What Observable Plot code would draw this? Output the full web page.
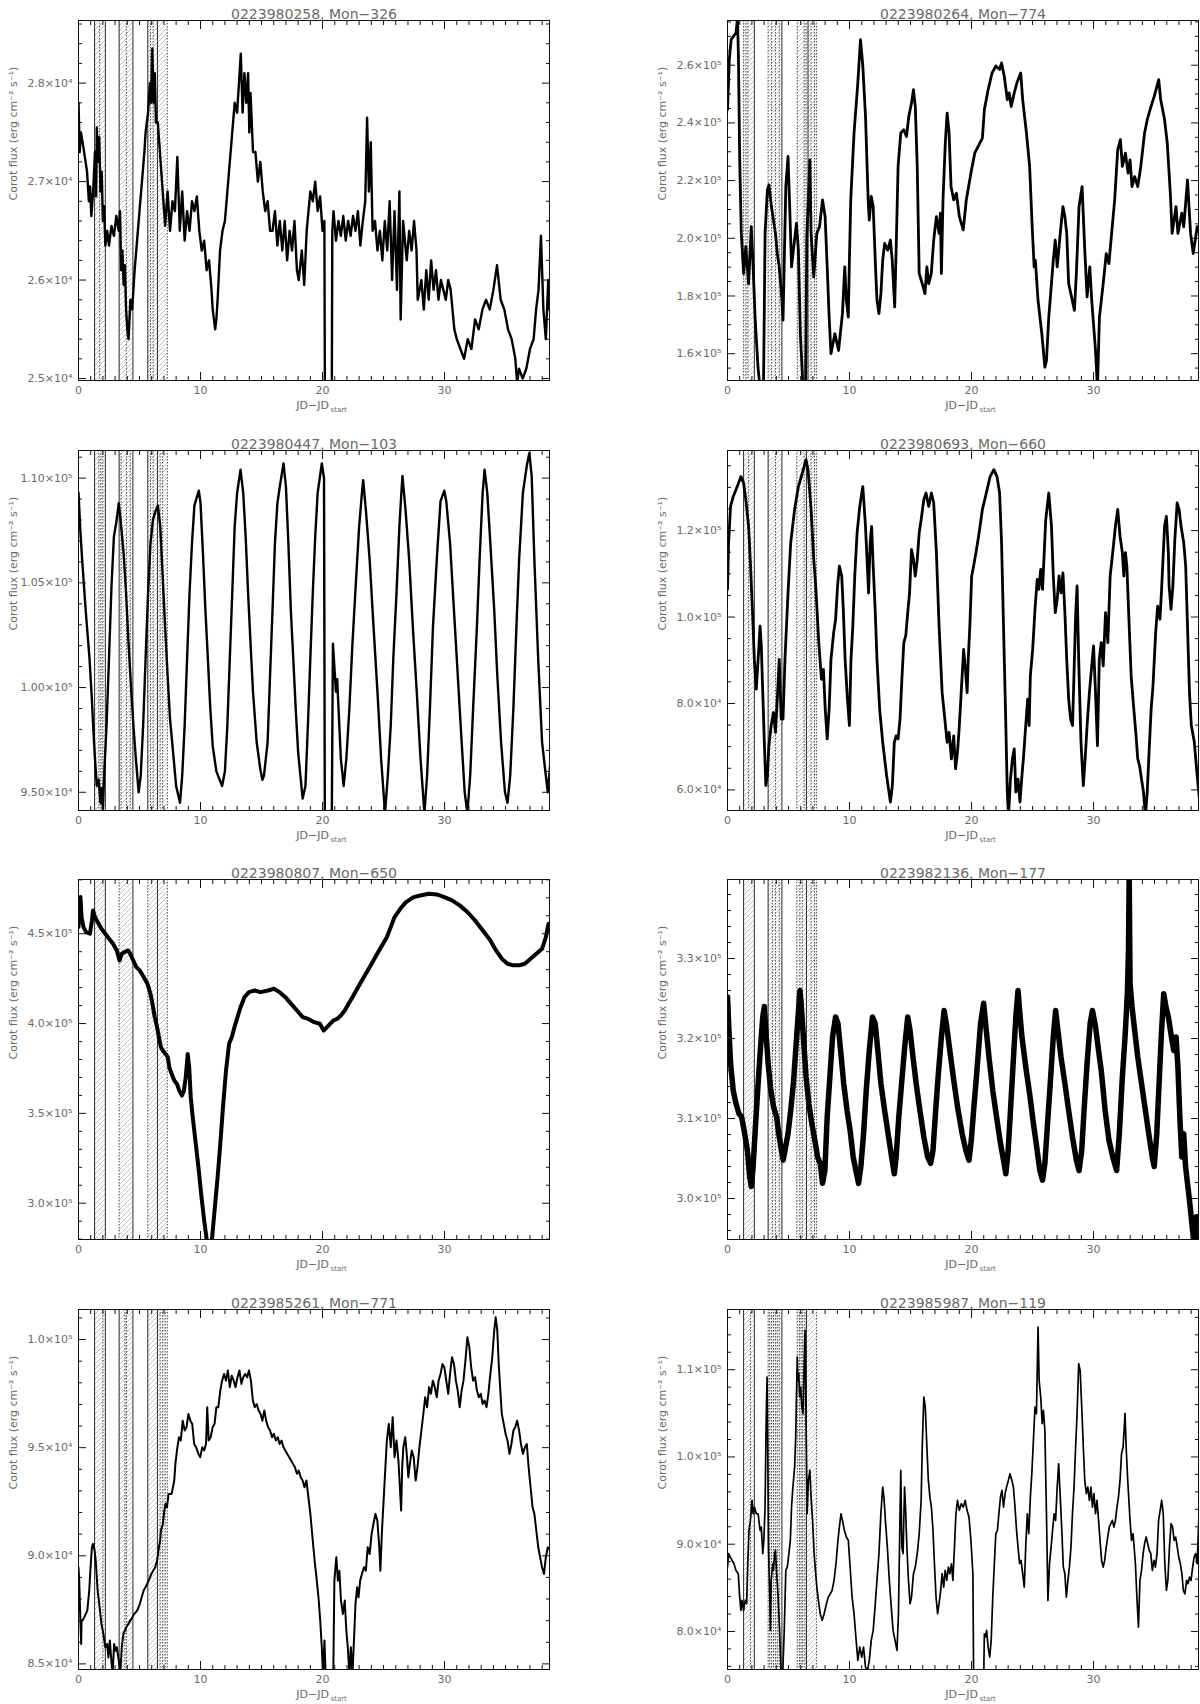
<!DOCTYPE html>
<html><head><meta charset="utf-8">
<script src="https://cdn.jsdelivr.net/npm/d3@7"></script>
<script src="https://cdn.jsdelivr.net/npm/@observablehq/plot@0.6"></script>
<style>
body{margin:0;background:#fff;}
#wrap{position:relative;width:1200px;height:1704px;overflow:hidden;}
.panel{position:absolute;}
</style></head><body><div id="wrap"></div>
<script>
// ---------- light curves: [JD-JDstart, flux] ----------
const lc258 = [[0,27800],[0.1,27300],[0.2,27500],[0.4,27350],[0.7,27100],[0.85,26800],[0.95,26950],[1.05,26650],[1.2,26900],[1.35,27300],[1.45,26850],[1.5,27550],[1.6,27200],[1.7,27450],[1.8,26900],[1.9,27100],[2.0,26600],[2.1,26750],[2.2,26350],[2.35,26500],[2.5,26350],[2.7,26550],[2.9,26450],[3.1,26650],[3.3,26500],[3.4,26700],[3.5,26100],[3.6,26300],[3.7,25950],[3.8,26150],[3.9,25700],[4.0,25500],[4.1,25400],[4.25,25800],[4.4,25700],[4.6,26100],[4.8,26400],[5.0,26700],[5.2,27000],[5.4,27300],[5.5,27500],[5.7,27700],[5.85,28000],[5.95,27800],[6.05,28350],[6.15,27800],[6.25,28100],[6.35,27600],[6.5,27600],[6.7,27250],[6.9,26900],[7.1,26550],[7.3,26900],[7.5,26500],[7.7,26800],[7.9,26700],[8.1,27250],[8.3,26500],[8.5,26900],[8.7,26400],[8.9,26700],[9.1,26500],[9.3,26800],[9.5,26700],[9.7,26850],[9.9,26500],[10.1,26300],[10.3,26400],[10.5,26100],[10.7,26200],[10.9,25900],[11.0,25700],[11.2,25500],[11.3,25600],[11.4,25800],[11.6,26300],[11.8,26500],[12.0,26600],[12.2,26900],[12.4,27200],[12.6,27500],[12.8,27800],[13.0,27700],[13.15,28000],[13.3,28300],[13.45,27700],[13.6,28100],[13.75,27800],[13.9,28100],[14.0,27500],[14.1,27900],[14.3,27300],[14.5,27300],[14.7,27000],[14.9,27200],[15.1,26900],[15.3,26700],[15.5,26800],[15.7,26500],[15.9,26500],[16.1,26700],[16.3,26350],[16.5,26600],[16.7,26300],[16.9,26600],[17.1,26200],[17.3,26500],[17.5,26300],[17.7,26600],[17.9,26100],[18.05,26000],[18.3,26300],[18.5,25950],[18.7,26500],[19.0,26900],[19.2,26800],[19.4,27000],[19.6,26700],[19.8,26850],[20.0,26500],[20.15,26600],[20.2,24500],[20.75,24500],[20.8,26500],[20.9,26700],[21.1,26400],[21.3,26600],[21.5,26450],[21.7,26650],[21.9,26400],[22.1,26600],[22.3,26450],[22.5,26650],[22.7,26500],[22.9,26700],[23.1,26350],[23.3,26600],[23.5,26800],[23.65,27650],[23.8,26900],[23.95,27400],[24.1,26500],[24.3,26600],[24.5,26300],[24.7,26500],[24.9,26200],[25.1,26600],[25.3,26300],[25.5,26800],[25.7,26000],[25.9,26700],[26.1,25900],[26.3,26900],[26.4,25600],[26.6,26600],[26.9,26200],[27.1,26500],[27.3,26300],[27.5,26600],[27.7,26300],[27.8,25800],[28.1,26000],[28.3,25700],[28.5,26100],[28.7,25800],[28.9,26200],[29.1,25900],[29.3,26100],[29.5,25800],[29.7,26000],[29.9,25900],[30.1,25800],[30.3,26000],[30.5,25900],[30.8,25500],[31.0,25400],[31.3,25300],[31.6,25200],[31.9,25400],[32.2,25300],[32.5,25600],[32.8,25500],[33.1,25700],[33.4,25800],[33.7,25700],[34.0,25900],[34.3,26150],[34.6,25800],[34.9,25700],[35.2,25500],[35.5,25400],[35.8,25200],[35.95,24950],[36.1,25100],[36.4,25000],[36.7,25100],[37.0,25300],[37.3,25400],[37.5,25700],[37.7,25900],[37.9,26450],[38.1,25700],[38.3,25400],[38.5,26000],[38.6,25700]];

const lc264 = [[0,244600],[0.15,262000],[0.3,268900],[0.5,270100],[0.7,271200],[0.82,276500],[0.9,262000],[1.0,227200],[1.13,201700],[1.32,187800],[1.5,197100],[1.73,184300],[1.95,204000],[2.1,190100],[2.26,172700],[2.5,155300],[2.67,148000],[2.95,148000],[3.08,201700],[3.27,216800],[3.4,218500],[3.6,211000],[3.93,201700],[4.08,194700],[4.24,190100],[4.46,178500],[4.55,171600],[4.78,217900],[4.96,228400],[5.08,213300],[5.25,190100],[5.43,197100],[5.65,205200],[5.81,195900],[5.97,166900],[6.19,148000],[6.4,148000],[6.5,200000],[6.75,227200],[6.85,201700],[7.07,186600],[7.32,201700],[7.54,204000],[7.79,213300],[8.0,207500],[8.17,190100],[8.33,172700],[8.48,160000],[8.8,166900],[9.1,161100],[9.42,173900],[9.61,190100],[9.74,178500],[9.9,172700],[9.99,192400],[10.1,213300],[10.37,236500],[10.68,253900],[10.9,268900],[11.09,259700],[11.31,242300],[11.53,213300],[11.62,206300],[11.78,214500],[11.94,211000],[12.13,190100],[12.25,178500],[12.41,173900],[12.57,180800],[12.72,192400],[12.88,198200],[13.13,195900],[13.35,199400],[13.5,192400],[13.7,176200],[13.82,195900],[13.98,224900],[14.2,236500],[14.45,237600],[14.67,235300],[14.86,242300],[15.08,246900],[15.24,251500],[15.39,245700],[15.55,224900],[15.71,187800],[15.96,184300],[16.18,180800],[16.34,190100],[16.49,184300],[16.7,187800],[16.9,199400],[17.12,207500],[17.34,201700],[17.45,208700],[17.53,187800],[17.66,213300],[17.85,233000],[18.0,243400],[18.16,236500],[18.32,217900],[18.54,213300],[18.76,215600],[19.0,207500],[19.32,202900],[19.57,213300],[19.95,222600],[20.26,229500],[20.89,234700],[21.05,244600],[21.36,251500],[21.68,257300],[21.99,259700],[22.3,258500],[22.46,260800],[22.68,256200],[22.93,248100],[23.09,250400],[23.25,245700],[23.5,250400],[23.72,253900],[24.03,257300],[24.19,248100],[24.5,236500],[24.76,224900],[24.97,204000],[25.13,190100],[25.23,192400],[25.45,178500],[25.76,166900],[26.01,155300],[26.14,157600],[26.33,172700],[26.55,184300],[26.7,192400],[26.86,199400],[27.02,190100],[27.27,201700],[27.49,211000],[27.65,207500],[27.8,201700],[27.96,184300],[28.43,175000],[28.59,187800],[28.81,211000],[29.06,217900],[29.28,195900],[29.47,179700],[29.69,190100],[29.85,178500],[30.16,161100],[30.32,148000],[30.48,172700],[30.79,184300],[31.04,194700],[31.26,191200],[31.48,201700],[31.73,213300],[31.98,230700],[32.2,234200],[32.36,224900],[32.61,229500],[32.83,222600],[32.99,227200],[33.15,217900],[33.37,221400],[33.62,217900],[33.87,224900],[34.18,236500],[34.4,241100],[34.71,245700],[34.97,249200],[35.34,255000],[35.5,248100],[35.82,241100],[36.04,233000],[36.29,215600],[36.44,201700],[36.76,211000],[36.91,201700],[37.23,208700],[37.39,204000],[37.7,220200],[37.95,201700],[38.17,194700],[38.49,204000],[38.7,201700]];

const lc447 = [[0,109300],[0.15,107500],[0.3,106100],[0.6,103600],[0.9,101400],[1.1,99400],[1.2,98200],[1.35,96600],[1.5,95300],[1.65,95600],[1.8,94500],[1.9,95200],[2.0,94200],[2.1,95800],[2.3,98200],[2.5,101400],[2.7,104800],[2.9,107200],[3.1,107900],[3.3,108800],[3.45,108000],[3.7,106400],[3.9,104500],[4.1,102100],[4.3,100100],[4.5,98200],[4.7,96600],[4.93,95000],[5.1,95800],[5.3,98200],[5.5,101400],[5.7,104500],[5.9,106900],[6.1,108000],[6.3,108400],[6.5,108700],[6.7,107700],[6.9,105300],[7.1,102900],[7.3,100600],[7.5,98500],[7.8,96600],[8.0,95300],[8.32,94500],[8.5,95800],[8.7,98200],[8.9,101400],[9.1,104500],[9.3,106900],[9.5,108700],[9.86,109400],[10.0,108800],[10.2,106400],[10.4,103700],[10.6,101400],[10.8,99000],[11.0,97200],[11.3,96000],[11.77,95300],[12.0,96000],[12.2,98200],[12.4,101400],[12.6,104500],[12.8,107700],[13.0,109300],[13.28,110400],[13.5,109300],[13.7,107200],[13.9,104500],[14.1,102100],[14.3,99800],[14.6,97400],[14.9,96100],[15.07,95600],[15.2,95800],[15.5,97400],[15.7,100600],[15.9,103700],[16.1,106900],[16.3,108800],[16.5,109600],[16.8,110700],[17.0,109600],[17.2,106900],[17.4,103700],[17.6,101400],[17.8,99000],[18.0,96900],[18.37,94700],[18.6,95300],[18.8,98200],[19.0,101400],[19.2,104500],[19.4,107200],[19.6,109300],[19.94,110700],[20.12,110000],[20.19,93000],[20.75,93000],[20.85,102100],[21.1,99800],[21.2,100400],[21.35,98500],[21.5,96600],[21.73,95300],[21.95,96600],[22.2,99000],[22.45,102100],[22.76,105300],[23.0,107700],[23.23,109300],[23.33,109900],[23.55,108500],[23.86,106100],[24.18,102900],[24.5,99800],[24.8,96600],[25.12,94000],[25.35,95800],[25.59,98200],[25.8,101400],[26.06,104500],[26.3,107700],[26.47,109400],[26.55,110100],[26.8,108500],[27.1,106100],[27.4,102900],[27.72,99800],[28.03,96600],[28.35,94000],[28.57,95800],[28.8,99000],[29.05,102900],[29.36,106100],[29.67,108900],[29.98,109400],[30.14,108900],[30.45,106900],[30.77,103700],[31.08,100600],[31.4,97400],[31.65,95000],[31.87,94000],[32.1,95800],[32.34,99000],[32.65,102900],[32.87,106100],[33.12,109300],[33.28,110400],[33.5,109300],[33.75,106900],[34.07,103700],[34.32,100600],[34.63,97400],[34.95,95000],[35.16,94500],[35.38,95800],[35.64,99000],[35.89,102900],[36.11,106100],[36.42,109300],[36.74,110600],[36.95,111200],[37.14,110100],[37.36,106100],[37.67,101400],[37.99,97400],[38.3,95800],[38.46,95000],[38.7,96600]];

const lc693 = [[0,106400],[0.09,117200],[0.25,125600],[0.47,127900],[0.8,130200],[1.1,132500],[1.32,131000],[1.5,127200],[1.73,121000],[1.89,111800],[2.04,101800],[2.2,90200],[2.36,83300],[2.51,90200],[2.67,97900],[2.77,93300],[2.89,82500],[3.02,71000],[3.14,61000],[3.27,63300],[3.39,70200],[3.58,74900],[3.77,77900],[3.93,73300],[4.08,81000],[4.24,90200],[4.4,76400],[4.55,76400],[4.71,90200],[4.96,105600],[5.18,117200],[5.5,124900],[5.81,130200],[6.13,133300],[6.44,136400],[6.6,134100],[6.85,124900],[7.07,113300],[7.23,107200],[7.48,94100],[7.7,85600],[7.86,87900],[8.01,78700],[8.17,71800],[8.33,78700],[8.48,90200],[8.7,96400],[8.86,99500],[9.02,107200],[9.17,111800],[9.36,109500],[9.49,101800],[9.64,90200],[9.83,81000],[9.99,74900],[10.12,90200],[10.27,97900],[10.43,109500],[10.62,119500],[10.84,125600],[11.09,130200],[11.31,121000],[11.46,111800],[11.56,105600],[11.69,117200],[11.81,121000],[11.94,111800],[12.1,101800],[12.25,90200],[12.47,78700],[12.72,71000],[13.04,63300],[13.35,57200],[13.51,61000],[13.67,71000],[13.82,72500],[13.98,71800],[14.14,76400],[14.29,85600],[14.45,94100],[14.61,95700],[14.77,101000],[14.92,105600],[15.08,115600],[15.24,113300],[15.39,109500],[15.55,113300],[15.71,119500],[15.87,122500],[16.09,127200],[16.27,128700],[16.49,125600],[16.71,128700],[16.9,126400],[17.12,114900],[17.34,97900],[17.59,82500],[17.81,76400],[18.0,71000],[18.16,73300],[18.35,67200],[18.54,72500],[18.69,64900],[18.85,68700],[19.0,74900],[19.23,86400],[19.35,92500],[19.48,88700],[19.64,82500],[19.73,90200],[19.86,97900],[20.01,109500],[20.17,111800],[20.36,114900],[20.58,118700],[20.89,124900],[21.21,128700],[21.52,132500],[21.83,134100],[22.09,132500],[22.3,128700],[22.46,117200],[22.62,97900],[22.78,78700],[22.93,59500],[23.03,54000],[23.19,62500],[23.35,67200],[23.5,69500],[23.63,59500],[23.81,62500],[23.97,57200],[24.13,63300],[24.25,67200],[24.44,74900],[24.6,81000],[24.72,74900],[24.82,86400],[25.01,92500],[25.2,101800],[25.38,108700],[25.51,106400],[25.67,111000],[25.82,106400],[26.08,122500],[26.33,128700],[26.55,121000],[26.7,109500],[26.86,101000],[27.02,104100],[27.17,109500],[27.33,105600],[27.49,110200],[27.65,101000],[27.8,90200],[27.96,81000],[28.12,76400],[28.28,74900],[28.53,100300],[28.65,107200],[28.78,90200],[28.97,71000],[29.16,61000],[29.31,67200],[29.47,74900],[29.66,82500],[29.85,88700],[30.0,93300],[30.16,82500],[30.32,70200],[30.47,90200],[30.63,94100],[30.79,88700],[30.98,101000],[31.17,94100],[31.36,109500],[31.57,114900],[31.79,121000],[31.98,124900],[32.17,118700],[32.36,114900],[32.48,109500],[32.61,114900],[32.73,111800],[32.92,97900],[33.08,86400],[33.3,78700],[33.46,73300],[33.62,67200],[33.77,65600],[33.93,62500],[34.09,59500],[34.25,54000],[34.4,59500],[34.56,69500],[34.72,78700],[34.87,84100],[35.09,96400],[35.25,102500],[35.44,99500],[35.56,105600],[35.82,121000],[35.97,123300],[36.13,114900],[36.19,107200],[36.35,101800],[36.5,107200],[36.66,117900],[36.85,126400],[37.01,124900],[37.17,121000],[37.39,117200],[37.55,111800],[37.7,97900],[37.86,82500],[38.01,74900],[38.26,71000],[38.49,63300],[38.7,57200]];

const lc807 = [[0,453700],[0.06,463000],[0.16,470400],[0.25,459300],[0.41,453700],[0.63,450900],[0.94,450000],[1.1,457400],[1.19,463000],[1.35,459300],[1.57,456500],[1.88,452800],[2.2,450000],[2.51,447200],[2.83,444400],[3.14,440700],[3.36,435100],[3.55,438900],[3.77,439800],[4.08,440700],[4.24,438900],[4.49,435100],[4.74,431400],[5.02,429600],[5.34,425900],[5.65,422100],[5.9,416600],[6.06,411000],[6.25,403600],[6.44,398000],[6.59,392400],[6.75,386900],[6.91,385000],[7.13,383100],[7.32,381300],[7.44,375700],[7.63,372000],[7.85,368300],[8.07,366400],[8.26,362700],[8.48,359900],[8.64,362700],[8.79,370200],[8.95,383100],[9.07,375700],[9.2,359000],[9.36,347900],[9.58,334900],[9.83,320000],[10.05,305200],[10.3,290300],[10.52,279200],[10.67,278000],[10.93,279200],[11.15,295900],[11.4,314400],[11.62,333000],[11.84,353400],[12.09,373900],[12.34,388700],[12.56,392400],[12.78,398000],[13.03,403600],[13.28,409100],[13.6,414700],[13.97,417500],[14.44,418400],[14.91,417500],[15.54,418400],[16.01,419400],[16.48,417500],[16.95,414700],[17.43,411000],[17.9,407300],[18.37,403600],[18.84,402600],[19.31,400800],[19.78,399900],[20.09,396100],[20.88,401700],[21.19,402600],[21.5,404500],[21.82,407300],[22.13,411000],[22.45,414700],[22.92,420300],[23.39,425900],[23.86,431400],[24.33,437000],[24.8,442600],[25.27,448100],[25.59,453700],[25.9,459300],[26.37,463900],[26.84,467600],[27.47,470400],[28.1,471400],[28.73,472300],[29.36,471900],[29.98,470400],[30.61,468600],[31.24,465800],[31.87,462100],[32.5,457400],[33.12,451900],[33.75,446300],[34.22,440700],[34.69,436100],[35.16,433300],[35.64,432400],[36.11,432400],[36.58,433300],[37.05,436100],[37.52,438900],[37.99,441600],[38.3,448100],[38.52,455600],[38.68,452800]];

const lc136 = [[0,325200],[0.09,321900],[0.25,316900],[0.47,313500],[0.69,311900],[0.94,310600],[1.16,310200],[1.41,308100],[1.63,306000],[1.82,302700],[1.95,301500],[2.1,304000],[2.29,309000],[2.51,314400],[2.73,319400],[2.89,322700],[3.02,324000],[3.14,321000],[3.33,316900],[3.55,313500],[3.77,311500],[4.02,310200],[4.24,307700],[4.56,304800],[4.71,306000],[4.96,308100],[5.18,311000],[5.4,314400],[5.59,318500],[5.78,322700],[5.94,326000],[6.03,324400],[6.22,320200],[6.44,315200],[6.66,311900],[6.91,309400],[7.16,307300],[7.38,305200],[7.6,304400],[7.79,301900],[7.98,303500],[8.17,310200],[8.39,315200],[8.61,320200],[8.86,322700],[9.05,321900],[9.27,318500],[9.52,314400],[9.8,311000],[10.05,308500],[10.3,305200],[10.52,303500],[10.74,301900],[10.93,304000],[11.15,308100],[11.37,313500],[11.62,318500],[11.88,322700],[12.1,321900],[12.32,318500],[12.57,314400],[12.88,311000],[13.2,307700],[13.45,305200],[13.67,303100],[13.82,305200],[14.04,310200],[14.29,314800],[14.55,319400],[14.77,322700],[14.96,321000],[15.17,318100],[15.46,314400],[15.77,311000],[16.09,307700],[16.4,305200],[16.65,304400],[16.84,306000],[17.06,311000],[17.28,315600],[17.53,320200],[17.75,323500],[17.97,321500],[18.22,318500],[18.54,314800],[18.85,311500],[19.23,308100],[19.54,306000],[19.79,304800],[19.98,307300],[20.17,311000],[20.42,315600],[20.74,321900],[20.99,324400],[21.21,321000],[21.43,317700],[21.74,313500],[22.05,310200],[22.37,306900],[22.62,304800],[22.81,303100],[23.0,306000],[23.19,311000],[23.41,316900],[23.63,322700],[23.81,326000],[23.94,323500],[24.13,320200],[24.44,316500],[24.76,313100],[25.07,309400],[25.38,306000],[25.6,303500],[25.82,302300],[26.01,304400],[26.23,309400],[26.45,314400],[26.7,320200],[26.89,323500],[27.08,321000],[27.33,317700],[27.65,314400],[27.96,311000],[28.27,307700],[28.59,304800],[28.81,303500],[29.03,306000],[29.22,311000],[29.47,316900],[29.72,321900],[29.91,323500],[30.16,321500],[30.41,318500],[30.63,316000],[30.95,311000],[31.26,307300],[31.57,305200],[31.89,303500],[32.11,308100],[32.36,315200],[32.58,320200],[32.77,325600],[32.86,331000],[32.92,340500],[32.99,326900],[33.15,324000],[33.37,321000],[33.62,317700],[33.93,314400],[34.25,311000],[34.56,307700],[34.81,305200],[34.97,304000],[35.18,308100],[35.37,314400],[35.56,320600],[35.75,325600],[35.94,323900],[36.13,322700],[36.38,320200],[36.57,318500],[36.76,320200],[36.91,316500],[37.07,310200],[37.23,305200],[37.39,308100],[37.54,304000],[37.7,301900],[37.86,299800],[38.08,296500],[38.27,294000],[38.4,297700],[38.52,294000],[38.7,295600]];

const lc261 = [[0,89470],[0.06,88850],[0.16,86850],[0.22,85920],[0.25,87000],[0.31,87000],[0.47,87150],[0.72,87460],[0.88,88390],[0.97,89310],[1.1,90390],[1.19,90550],[1.32,90240],[1.41,89780],[1.57,88390],[1.73,87620],[1.88,86850],[2.04,86380],[2.2,85770],[2.35,85920],[2.45,85300],[2.57,86080],[2.67,85300],[2.79,84500],[2.92,85920],[3.05,85610],[3.14,85770],[3.3,85150],[3.42,84500],[3.55,85770],[3.67,86380],[3.8,86540],[3.92,86690],[4.08,86850],[4.24,87000],[4.4,87150],[4.55,87310],[4.71,87390],[4.87,87540],[5.02,87770],[5.18,88080],[5.34,88390],[5.49,88540],[5.75,88850],[5.97,89160],[6.12,89310],[6.28,89470],[6.44,89780],[6.59,90390],[6.69,90700],[6.75,91160],[6.91,91470],[7.0,91940],[7.13,92400],[7.25,92240],[7.38,92860],[7.63,92860],[7.85,93480],[7.94,94250],[8.07,94870],[8.23,95480],[8.38,95330],[8.54,96250],[8.7,95790],[8.85,95940],[9.01,96560],[9.17,96250],[9.32,96100],[9.48,95170],[9.64,95020],[9.83,94710],[9.98,94560],[10.14,95020],[10.3,94870],[10.45,95170],[10.55,96870],[10.67,95330],[10.83,95480],[10.99,95940],[11.15,96100],[11.3,96870],[11.46,96870],[11.62,97640],[11.77,98100],[11.93,98410],[12.09,98100],[12.24,98570],[12.4,97800],[12.56,98330],[12.72,98100],[12.87,97800],[13.03,98260],[13.19,98570],[13.35,97950],[13.5,98260],[13.66,98410],[13.82,98260],[13.97,98570],[14.13,98100],[14.29,97180],[14.44,96870],[14.6,97020],[14.76,96720],[14.92,96560],[15.07,96250],[15.23,96720],[15.38,96250],[15.54,95940],[15.7,95790],[15.86,95480],[16.01,95640],[16.17,95330],[16.33,95480],[16.48,95170],[16.64,95330],[16.8,95020],[16.95,94870],[17.11,94710],[17.27,94560],[17.43,94400],[17.58,94250],[17.74,94090],[17.9,93790],[18.05,93940],[18.21,93630],[18.37,93480],[18.52,93170],[18.68,93480],[18.84,92710],[19.0,91940],[19.1,91320],[19.25,90390],[19.38,89620],[19.53,88850],[19.69,87930],[19.81,87000],[19.94,85770],[20.03,84500],[20.16,86080],[20.25,84500],[20.88,84500],[20.97,88850],[21.13,89930],[21.26,88850],[21.38,89310],[21.51,87930],[21.67,87310],[21.82,87930],[21.95,86540],[22.07,85770],[22.2,84500],[22.32,85770],[22.45,84500],[22.61,86540],[22.7,87770],[22.83,88540],[22.95,88080],[23.08,88850],[23.23,89160],[23.39,89470],[23.55,89310],[23.7,90390],[23.86,90080],[24.02,91010],[24.17,91470],[24.33,91940],[24.49,91630],[24.65,90390],[24.74,89310],[24.87,91160],[25.02,92710],[25.15,94090],[25.27,95330],[25.43,96100],[25.59,95020],[25.75,96410],[25.9,94560],[26.06,95330],[26.22,94400],[26.31,93480],[26.44,92090],[26.53,94090],[26.62,95020],[26.78,95480],[26.9,94710],[27.03,93630],[27.16,94250],[27.31,94870],[27.47,94560],[27.63,93480],[27.78,94090],[27.94,95020],[28.1,95790],[28.26,96560],[28.41,97330],[28.57,96870],[28.73,97800],[28.88,97490],[29.04,98100],[29.2,97800],[29.36,97330],[29.51,98100],[29.67,98410],[29.83,98870],[29.98,98720],[30.14,98100],[30.3,97490],[30.45,98410],[30.61,99180],[30.77,98870],[30.93,98100],[31.08,97640],[31.24,96870],[31.4,97640],[31.55,98100],[31.71,99030],[31.87,100110],[32.03,99650],[32.18,98720],[32.34,98100],[32.5,98260],[32.65,97640],[32.81,97330],[32.97,97490],[33.12,97020],[33.28,97180],[33.44,96870],[33.59,97490],[33.75,98410],[33.91,99180],[34.07,100420],[34.19,101030],[34.32,100420],[34.44,98870],[34.57,97640],[34.69,96560],[34.85,96100],[35.0,95640],[35.16,95330],[35.32,94710],[35.48,95170],[35.64,95790],[35.79,95940],[35.95,96250],[36.11,95790],[36.26,95170],[36.42,94710],[36.58,95020],[36.74,95170],[36.89,94090],[37.05,93170],[37.21,92240],[37.36,91940],[37.52,91160],[37.68,90390],[37.83,89930],[37.99,89470],[38.15,89160],[38.3,89930],[38.46,90390],[38.68,90240]];

const lc987 = [[0,87380],[0.09,88910],[0.22,88530],[0.38,88140],[0.53,87760],[0.69,87000],[0.88,86620],[1.0,83940],[1.1,82410],[1.19,83560],[1.32,82410],[1.45,83560],[1.57,83180],[1.66,87760],[1.76,91580],[1.88,92730],[2.01,95020],[2.1,93490],[2.2,94260],[2.36,93490],[2.51,93490],[2.67,91580],[2.77,91970],[2.89,88910],[2.98,90440],[3.08,94260],[3.17,104190],[3.24,109160],[3.3,101140],[3.36,89670],[3.46,83940],[3.52,80120],[3.58,85850],[3.71,87760],[3.77,87000],[3.86,88910],[3.93,89290],[4.02,87000],[4.15,83940],[4.27,80120],[4.4,75000],[4.52,75000],[4.65,80120],[4.78,87000],[4.9,87380],[5.03,88910],[5.15,90440],[5.25,94260],[5.34,96170],[5.5,98840],[5.59,102280],[5.65,106870],[5.72,111450],[5.78,108780],[5.84,109540],[5.91,106870],[6.0,108010],[6.09,105720],[6.19,104960],[6.28,110690],[6.35,114510],[6.44,103810],[6.53,93490],[6.63,97310],[6.75,98460],[6.85,95400],[6.97,92730],[7.1,88910],[7.23,86620],[7.32,85090],[7.45,83560],[7.6,82030],[7.76,81270],[7.92,82030],[8.11,83180],[8.26,83940],[8.42,84320],[8.57,84700],[8.73,85850],[8.89,87760],[9.05,90440],[9.17,91970],[9.3,93490],[9.42,92730],[9.58,91580],[9.74,90820],[9.9,90440],[10.05,87380],[10.21,83940],[10.37,82030],[10.52,79360],[10.68,76680],[10.84,78210],[11.0,77060],[11.15,78210],[11.31,75920],[11.47,75500],[11.62,76680],[11.78,78970],[11.94,80120],[12.09,82790],[12.25,85850],[12.41,88910],[12.57,93490],[12.72,96550],[12.82,95400],[12.94,92730],[13.1,89670],[13.26,85850],[13.42,82790],[13.57,80120],[13.73,78970],[13.89,77830],[14.01,82030],[14.14,93490],[14.2,98460],[14.29,89670],[14.39,88910],[14.51,96550],[14.61,93490],[14.7,89670],[14.83,85850],[14.96,83180],[15.08,83940],[15.24,86620],[15.39,87380],[15.55,88910],[15.71,91200],[15.87,95020],[15.96,101140],[16.09,106870],[16.21,105720],[16.34,101140],[16.46,97310],[16.59,95400],[16.71,94260],[16.84,91580],[16.96,87760],[17.09,83940],[17.22,82030],[17.34,83180],[17.47,84700],[17.59,86620],[17.72,85090],[17.84,87000],[17.97,85850],[18.1,87380],[18.22,86620],[18.35,87760],[18.47,85850],[18.6,89670],[18.72,93490],[18.85,95020],[19.0,93880],[19.16,94640],[19.32,94260],[19.48,95020],[19.63,93880],[19.79,93110],[19.95,90440],[20.11,86620],[20.17,75000],[21.0,75000],[21.05,79740],[21.14,79360],[21.24,80120],[21.36,78210],[21.49,77060],[21.61,78970],[21.74,83940],[21.87,87760],[21.99,91200],[22.12,91580],[22.24,93490],[22.37,95400],[22.49,96170],[22.62,94260],[22.75,95790],[22.87,96550],[23.02,97310],[23.15,98080],[23.31,97310],[23.43,96550],[23.56,94260],[23.69,91580],[23.81,89670],[23.94,87760],[24.06,88140],[24.19,86620],[24.32,85090],[24.44,89670],[24.57,93490],[24.69,91200],[24.82,95400],[24.94,98080],[25.07,101900],[25.2,105720],[25.32,104960],[25.45,114890],[25.54,108780],[25.67,106870],[25.79,103810],[25.89,105340],[26.01,103050],[26.14,93490],[26.26,83560],[26.39,87760],[26.52,89670],[26.64,91580],[26.77,93490],[26.89,92730],[27.02,96550],[27.14,99220],[27.27,95400],[27.4,91580],[27.52,87380],[27.65,86620],[27.77,83940],[27.9,85850],[28.02,87380],[28.15,89670],[28.27,93490],[28.4,96550],[28.53,101140],[28.65,104960],[28.78,110690],[28.9,109920],[29.03,105720],[29.16,101140],[29.28,97310],[29.41,95790],[29.53,96550],[29.66,95020],[29.78,96550],[29.91,94260],[30.03,95790],[30.16,93490],[30.28,95020],[30.41,92730],[30.53,90440],[30.66,88140],[30.79,87380],[30.91,88140],[31.04,89670],[31.16,90820],[31.29,91970],[31.41,92350],[31.54,92730],[31.67,91970],[31.79,92730],[31.92,94260],[32.04,95400],[32.17,97310],[32.29,100370],[32.42,101140],[32.58,105000],[32.67,101140],[32.8,97310],[32.99,92730],[33.11,90440],[33.24,91200],[33.43,87760],[33.55,83940],[33.68,80500],[33.8,85850],[33.93,87000],[34.06,88910],[34.18,90050],[34.31,90820],[34.44,90050],[34.56,89290],[34.69,88910],[34.82,87000],[34.95,88140],[35.07,87380],[35.2,88910],[35.33,92730],[35.46,93880],[35.58,95020],[35.71,93490],[35.84,87760],[35.97,84700],[36.09,85850],[36.22,89670],[36.35,92350],[36.48,91970],[36.6,90440],[36.73,90820],[36.86,89670],[36.98,88530],[37.11,87760],[37.24,86620],[37.36,84700],[37.49,84320],[37.62,85850],[37.74,85470],[37.87,86240],[37.99,85850],[38.12,87380],[38.24,88530],[38.37,88910],[38.49,87760],[38.62,92730],[38.7,94640]];

// ---------- titles ----------
const titles = ["0223980258, Mon\u2212326","0223980264, Mon\u2212774","0223980447, Mon\u2212103","0223980693, Mon\u2212660","0223980807, Mon\u2212650","0223982136, Mon\u2212177","0223985261, Mon\u2212771","0223985987, Mon\u2212119"];

// ---------- y axes ----------
const yDomains = [[24980,28636],[150700,275500],[94130,111320],[55230,138540],[279800,480200],[294880,339880],[84740,101390],[75640,116900]];
const yTicks = [[25000,26000,27000,28000],[160000,180000,200000,220000,240000,260000],[95000,100000,105000,110000],[60000,80000,100000,120000],[300000,350000,400000,450000],[300000,310000,320000,330000],[85000,90000,95000,100000],[80000,90000,100000,110000]];
const yTickLabels = [["2.5\u00d710\u2074","2.6\u00d710\u2074","2.7\u00d710\u2074","2.8\u00d710\u2074"],["1.6\u00d710\u2075","1.8\u00d710\u2075","2.0\u00d710\u2075","2.2\u00d710\u2075","2.4\u00d710\u2075","2.6\u00d710\u2075"],["9.50\u00d710\u2074","1.00\u00d710\u2075","1.05\u00d710\u2075","1.10\u00d710\u2075"],["6.0\u00d710\u2074","8.0\u00d710\u2074","1.0\u00d710\u2075","1.2\u00d710\u2075"],["3.0\u00d710\u2075","3.5\u00d710\u2075","4.0\u00d710\u2075","4.5\u00d710\u2075"],["3.0\u00d710\u2075","3.1\u00d710\u2075","3.2\u00d710\u2075","3.3\u00d710\u2075"],["8.5\u00d710\u2074","9.0\u00d710\u2074","9.5\u00d710\u2074","1.0\u00d710\u2075"],["8.0\u00d710\u2074","9.0\u00d710\u2074","1.0\u00d710\u2075","1.1\u00d710\u2075"]];
const yMinorSteps = [200,5000,1000,5000,10000,2000,1000,2000];

// ---------- x axis ----------
const xDomain = [0, 38.6];
const xTicks = [0,10,20,30];
const xTickLabels = ["0","10","20","30"];

// ---------- excluded intervals (hatched) and marker lines ----------
const hatchBands = [[1.32,2.2],[3.33,4.46],[5.68,7.28]];
const solidLines = [
  [1.32,2.2,3.33,4.46,5.68,6.47],
  [2.2,4.46,6.6],
  [1.32,2.2,3.33,4.46,5.68,6.47],
  [1.32,2.2,3.33,4.46,6.47],
  [1.32,2.2,4.46,6.47],
  [1.32,2.2,3.33,4.46,6.47],
  [1.32,2.2,3.33,4.46,5.68,6.47],
  [1.32,2.2,4.46,6.47]
];
const dottedLines = [
  [1.73,3.92,5.9,6.12,7.28],
  [1.32,1.51,1.67,3.33,3.61,3.93,4.24,5.72,6.28,6.44,6.85,7.13,7.29],
  [1.67,1.83,1.99,3.49,3.93,4.24,5.9,6.12,6.69,6.9,7.28],
  [1.73,3.93,5.68,6.28,6.85,7.13,7.29],
  [3.33,5.68,7.28],
  [3.68,3.93,4.24,5.68,5.93,6.13,6.85,7.13,7.29],
  [2.0,3.8,3.93,6.69,6.9,7.1,7.28],
  [1.88,3.33,3.46,3.61,3.77,3.93,4.08,4.24,5.72,5.9,6.03,6.16,6.34,7.29]
];

const curves = [lc258, lc264, lc447, lc693, lc807, lc136, lc261, lc987];
const lineWidths = [2.4, 2.8, 2.4, 2.8, 4, 5.5, 2, 1.7];

const yTitle = "Corot flux (erg cm\u207b\u00b2 s\u207b\u00b9)";
const wrap = document.getElementById("wrap");
const txt = "#6a6a6a";

curves.forEach((data, i) => {
  const col = i % 2, row = Math.floor(i / 2);
  const ml = col ? 127 : 78, mr = col ? 2 : 51;
  const id = "hatch" + i;
  const dom = yDomains[i], step = yMinorSteps[i];
  const yMinor = d3.range(Math.ceil(dom[0] / step) * step, dom[1], step).filter(v => !yTicks[i].includes(v));
  const xMinor = d3.range(1, 39).filter(v => v % 10 !== 0 && v < xDomain[1]);
  const defsMark = () => {
    const d = d3.create("svg:defs");
    const p = d.append("pattern").attr("id", id).attr("patternUnits", "userSpaceOnUse").attr("width", 5).attr("height", 5);
    p.append("path").attr("d", "M-1,6 L6,-1 M-1,1 L1,-1 M4,6 L6,4").attr("stroke", "#ababab").attr("stroke-width", 0.7).attr("fill", "none");
    return d.node();
  };
  const noText = () => "";
  const tk = {color: "#111", label: null, tickFormat: noText};
  const svg = Plot.plot({
    width: 600, height: 415,
    marginLeft: ml, marginRight: mr, marginTop: 20, marginBottom: 35,
    style: {fontFamily: "DejaVu Sans, sans-serif", background: "white", overflow: "visible"},
    x: {domain: xDomain},
    y: {domain: dom},
    marks: [
      defsMark,
      Plot.rect(hatchBands, {x1: d => d[0], x2: d => d[1], fill: `url(#${id})`}),
      Plot.ruleX(solidLines[i], {stroke: "#111", strokeWidth: 0.9}),
      Plot.ruleX(dottedLines[i], {stroke: "#222", strokeWidth: 0.8, strokeDasharray: "1.5,1.5"}),
      Plot.line(data, {x: d => d[0], y: d => d[1], stroke: "black", strokeWidth: lineWidths[i], strokeLinejoin: "round", clip: true}),
      Plot.frame({stroke: "#111", strokeWidth: 1}),
      // inward ticks on all four sides (major + minor)
      Plot.axisX({...tk, anchor: "bottom", ticks: xTicks, tickSize: 8, dy: -8}),
      Plot.axisX({...tk, anchor: "bottom", ticks: xMinor, tickSize: 4, dy: -4}),
      Plot.axisX({...tk, anchor: "top", ticks: xTicks, tickSize: 8, dy: 8}),
      Plot.axisX({...tk, anchor: "top", ticks: xMinor, tickSize: 4, dy: 4}),
      Plot.axisY({...tk, anchor: "left", ticks: yTicks[i], tickSize: 8, dx: 8}),
      Plot.axisY({...tk, anchor: "left", ticks: yMinor, tickSize: 4, dx: 4}),
      Plot.axisY({...tk, anchor: "right", ticks: yTicks[i], tickSize: 8, dx: -8}),
      Plot.axisY({...tk, anchor: "right", ticks: yMinor, tickSize: 4, dx: -4}),
      // tick labels
      Plot.axisX({anchor: "bottom", ticks: xTicks, tickSize: 0, tickPadding: 6, fontSize: 11, color: txt, label: null,
        tickFormat: d => xTickLabels[xTicks.indexOf(d)]}),
      Plot.axisY({anchor: "left", ticks: yTicks[i], tickSize: 0, tickPadding: 6, fontSize: 11, color: txt, label: null,
        tickFormat: d => yTickLabels[i][yTicks[i].indexOf(d)]}),
      // titles and axis labels
      Plot.text([titles[i]], {text: d => d, frameAnchor: "top", dy: -11, fontSize: 14, fill: txt}),
      Plot.text([yTitle], {text: d => d, frameAnchor: "left", dx: -65, rotate: -90, fontSize: 11, fill: txt}),
      Plot.text(["JD\u2212JD"], {text: d => d, frameAnchor: "bottom", dy: 28, dx: 15, textAnchor: "end", fontSize: 11, fill: txt}),
      Plot.text(["start"], {text: d => d, frameAnchor: "bottom", dy: 31, dx: 16.5, textAnchor: "start", fontSize: 7, fill: txt})
    ]
  });
  const div = document.createElement("div");
  div.className = "panel";
  div.style.left = (col * 600) + "px";
  div.style.top = Math.round(row * 429.7) + "px";
  div.appendChild(svg);
  wrap.appendChild(div);
});
</script>
</body></html>
